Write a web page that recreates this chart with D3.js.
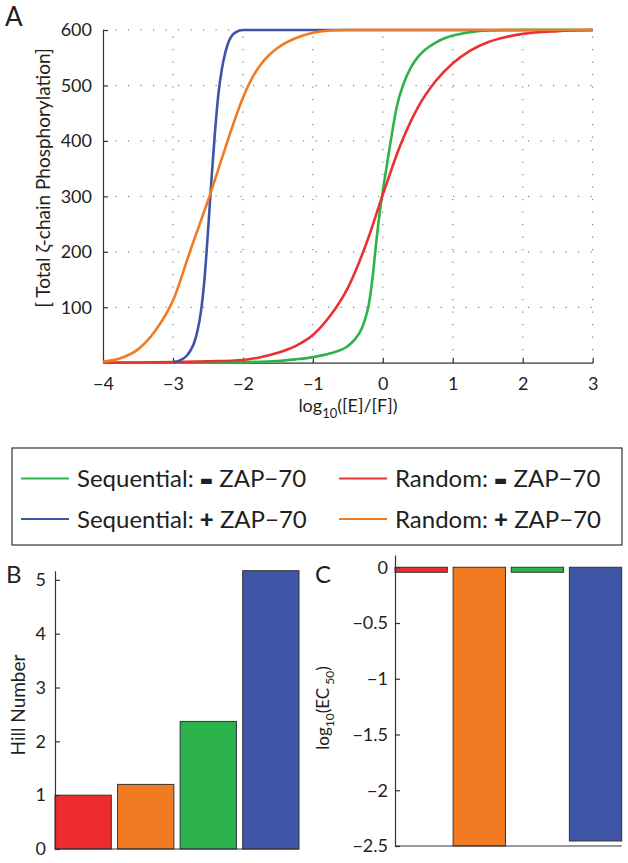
<!DOCTYPE html>
<html><head><meta charset="utf-8">
<script src="https://cdn.jsdelivr.net/npm/d3@7"></script>
<style>
body{margin:0;background:#fff}
text{font-family:Lato,"Noto Sans",sans-serif;fill:#231f20}
</style>
</head><body><svg id="chart" width="628" height="863"></svg>
<script>
// ---------- DATA ----------
const xTicksA = [-4,-3,-2,-1,0,1,2,3];
const yTicksA = [100,200,300,400,500,600];

const greenT = [-4,-3,-2,-1.5,-1.25,-1,-0.75,-0.5,-0.4,-0.3,-0.25,-0.2,-0.15,-0.1,-0.05,0,0.05,0.1,0.15,0.2,0.3,0.4,0.5,0.6,0.75,0.9,1,1.25,1.5,2,3];
const greenV = [0,0,1,3,6,10,17,30,42,62,80,105,150,210,265,310,350,390,428,462,504,532,551,564,577,586,590,596,599,600,600];

const redT = [-4,-3.5,-3,-2.5,-2,-1.75,-1.5,-1.25,-1,-0.75,-0.5,-0.25,0,0.25,0.5,0.75,1,1.25,1.5,1.75,2,2.5,3];
const redV = [0,0.3,1,2.5,5,10,18,30,50,85,135,210,303,392,460,507,540,563,578,587,593,598,600];

const blueT = [-3,-2.9,-2.8,-2.75,-2.7,-2.65,-2.6,-2.55,-2.5,-2.45,-2.4,-2.35,-2.3,-2.25,-2.2,-2.15,-2.1,-2,-1,3];
const blueV = [1,4,13,22,35,57,92,150,235,330,415,485,530,560,580,591,596,600,600,600];

const orangeT = [-4,-3.75,-3.5,-3.25,-3,-2.75,-2.5,-2.25,-2.125,-2,-1.875,-1.75,-1.625,-1.5,-1.25,-1,-0.75,-0.5,3];
const orangeV = [2,8,24,58,112,203,292,388,435,478,512,537,555,568,585,595,599,600,600];

const legendLabels = [
  ["Sequential: ","▬"," ZAP−70"],
  ["Random: ","▬"," ZAP−70"],
  ["Sequential: ","+"," ZAP−70"],
  ["Random: ","+"," ZAP−70"]
];

const barCategories = ["Random −","Random +","Sequential −","Sequential +"];
const hillValues = [1.0, 1.2, 2.37, 5.17];
const ec50Values = [-0.045, -2.5, -0.045, -2.455];
const hillTicks = [0,1,2,3,4,5];
const ec50Ticks = [0,-0.5,-1,-1.5,-2,-2.5];

// ---------- STYLE ----------
const C = {green:"#2db34a", red:"#e8322f", blue:"#3d55a6", orange:"#f07b22"};
const barColors = ["#ed2c2f","#f07b22","#2bb24b","#3f56a6"];
const axisCol = "#333";
const FONT = 'Lato,"Noto Sans",sans-serif';

const svg = d3.select("#chart");

function styleAxis(g, fs){
  g.selectAll("path,line").attr("stroke",axisCol).attr("stroke-width",1.2);
  g.selectAll("text").attr("font-size",fs).attr("fill","#231f20").style("font-family",FONT);
}

// ---------- PANEL A ----------
const xA = d3.scaleLinear().domain([-4,3]).range([103,592.7]);
const yA = d3.scaleLinear().domain([0,600]).range([362.7,30]);

const gA = svg.append("g");
gA.selectAll(".vg").data(xTicksA.slice(1)).enter().append("line")
  .attr("x1",d=>xA(d)).attr("x2",d=>xA(d)).attr("y1",yA(0)).attr("y2",yA(600))
  .attr("stroke","#666").attr("stroke-width",1).attr("stroke-dasharray","1.2,11.3");
gA.selectAll(".hg").data(yTicksA).enter().append("line")
  .attr("x1",xA(-4)).attr("x2",xA(3)).attr("y1",d=>yA(d)).attr("y2",d=>yA(d))
  .attr("stroke","#666").attr("stroke-width",1).attr("stroke-dasharray","1.2,11.3");

const axA_x = gA.append("g").attr("transform",`translate(0,${yA(0)})`)
  .call(d3.axisBottom(xA).tickValues(xTicksA).tickFormat(d3.format("d")).tickSizeInner(-5).tickSizeOuter(0).tickPadding(15));
styleAxis(axA_x,18);
const axA_y = gA.append("g").attr("transform",`translate(${xA(-4)},0)`)
  .call(d3.axisLeft(yA).tickValues(yTicksA).tickSizeInner(-5).tickSizeOuter(0).tickPadding(11));
styleAxis(axA_y,18);

const line = d3.line().curve(d3.curveMonotoneX).x(d=>xA(d[0])).y(d=>yA(d[1]));
const series = [
  [greenT,greenV,C.green],
  [redT,redV,C.red],
  [blueT,blueV,C.blue],
  [orangeT,orangeV,C.orange]
];
series.forEach(([t,v,col])=>{
  gA.append("path").datum(t.map((d,i)=>[d,v[i]]))
    .attr("d",line).attr("fill","none").attr("stroke",col).attr("stroke-width",2.6)
    .attr("stroke-linejoin","round");
});

const xl = gA.append("text").attr("x",348).attr("y",412).attr("text-anchor","middle").attr("font-size",18);
xl.append("tspan").text("log");
xl.append("tspan").attr("font-size",13).attr("dy",6).text("10");
xl.append("tspan").attr("dy",-6).text("([E]/[F])");

gA.append("text").attr("transform","translate(50,178) rotate(-90)").attr("text-anchor","middle")
  .attr("font-size",19).text("[ Total ζ-chain Phosphorylation]");

svg.append("text").attr("x",5).attr("y",26).attr("font-size",26).text("A");

// ---------- LEGEND ----------
svg.append("rect").attr("x",12).attr("y",448).attr("width",610).attr("height",97)
  .attr("fill","#fff").attr("stroke",axisCol).attr("stroke-width",1.2);
const legCols = [C.green,C.red,C.blue,C.orange];
const legPos = [[21,478.5],[339,478.5],[21,519],[339,519]];
legendLabels.forEach((lab,i)=>{
  const [lx,ly] = legPos[i];
  svg.append("line").attr("x1",lx).attr("x2",lx+48).attr("y1",ly).attr("y2",ly)
    .attr("stroke",legCols[i]).attr("stroke-width",1.8);
  const t = svg.append("text").attr("x",lx+56).attr("y",ly+8.5).attr("font-size",24);
  t.append("tspan").text(lab[0]);
  if(lab[1]==="▬"){
    t.append("tspan").attr("font-size",14).attr("dy",-2).style("font-family","DejaVu Sans").text(lab[1]);
    t.append("tspan").attr("dy",2).text(lab[2]);
  } else {
    t.append("tspan").attr("font-weight","900").text(lab[1]);
    t.append("tspan").text(lab[2]);
  }
});

// ---------- PANEL B ----------
const xB = d3.scaleLinear().domain([0.55,4.45]).range([55,299]);
const yB = d3.scaleLinear().domain([0,5.17]).range([849,570.7]);
const gB = svg.append("g");
gB.selectAll("rect").data(hillValues).enter().append("rect")
  .attr("x",(d,i)=>xB(i+1-0.45)).attr("width",(d,i)=>xB(i+1+0.45)-xB(i+1-0.45))
  .attr("y",d=>yB(d)).attr("height",d=>yB(0)-yB(d))
  .attr("fill",(d,i)=>barColors[i]).attr("stroke","#333").attr("stroke-width",1);
const axB_y = gB.append("g").attr("transform",`translate(${xB(0.55)},0)`)
  .call(d3.axisLeft(yB).tickValues(hillTicks).tickFormat(d3.format("d")).tickSizeInner(-5).tickSizeOuter(0).tickPadding(9));
styleAxis(axB_y,18);
gB.append("line").attr("x1",xB(0.55)).attr("x2",xB(4.45)).attr("y1",yB(0)).attr("y2",yB(0))
  .attr("stroke",axisCol).attr("stroke-width",1.2);
gB.append("text").attr("transform","translate(25,705) rotate(-90)").attr("text-anchor","middle")
  .attr("font-size",19).text("Hill Number");
svg.append("text").attr("x",6).attr("y",583).attr("font-size",24).text("B");

// ---------- PANEL C ----------
const xC = d3.scaleLinear().domain([0.55,4.45]).range([395,621.7]);
const yC = d3.scaleLinear().domain([-2.5,0.11]).range([846,555]);
const gC = svg.append("g");
gC.selectAll("rect").data(ec50Values).enter().append("rect")
  .attr("x",(d,i)=>xC(i+1-0.45)).attr("width",(d,i)=>xC(i+1+0.45)-xC(i+1-0.45))
  .attr("y",yC(0)).attr("height",d=>yC(d)-yC(0))
  .attr("fill",(d,i)=>barColors[i]).attr("stroke","#333").attr("stroke-width",1);
const axC_y = gC.append("g").attr("transform",`translate(${xC(0.55)},0)`)
  .call(d3.axisLeft(yC).tickValues(ec50Ticks).tickFormat(d3.format("~g")).tickSizeInner(-5).tickSizeOuter(0).tickPadding(7));
styleAxis(axC_y,18);
gC.append("line").attr("x1",xC(0.55)).attr("x2",xC(4.45)).attr("y1",yC(-2.5)).attr("y2",yC(-2.5))
  .attr("stroke",axisCol).attr("stroke-width",1.2);
const cl = gC.append("text").attr("transform","translate(329,708) rotate(-90)").attr("text-anchor","middle").attr("font-size",17);
cl.append("tspan").text("log");
cl.append("tspan").attr("font-size",12).attr("dy",5).text("10");
cl.append("tspan").attr("dy",-5).text("(EC");
cl.append("tspan").attr("font-size",12).attr("dy",5).text(" 50");
cl.append("tspan").attr("dy",-5).text(")");
svg.append("text").attr("x",315).attr("y",583).attr("font-size",24).text("C");
</script>
</body></html>
